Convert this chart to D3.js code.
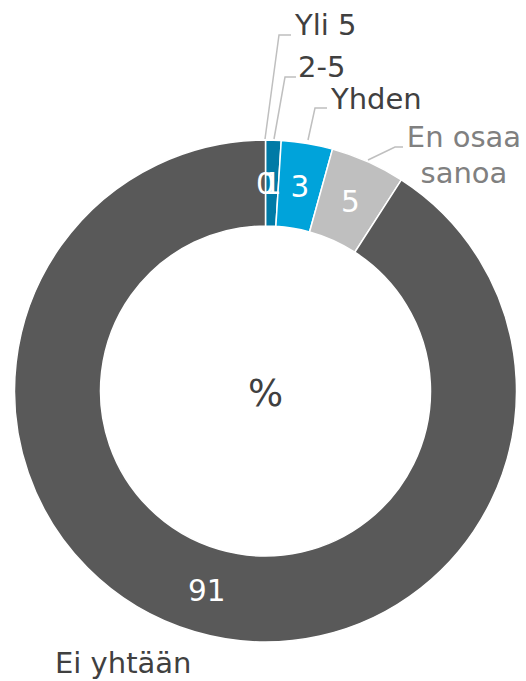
<html>
<head>
<meta charset="utf-8">
<script src="https://d3js.org/d3.v7.min.js"></script>
<style>
body { margin: 0; background: #fff; }
</style>
</head>
<body>
<script>
// data
var categories = ["Yli 5", "2-5", "Yhden", "En osaa sanoa", "Ei yhtään"];
var values = [0, 1.0, 3.3, 4.8, 90.9];
var shownValues = [0, 1, 3, 5, 91];
var colors = ["#1f4e79", "#007aa6", "#00a3da", "#bfbfbf", "#595959"];

var width = 526, height = 681;
var cx = 265.5, cy = 391, outerR = 251, innerR = 165;

var svg = d3.select("body").append("svg")
  .attr("width", width)
  .attr("height", height)
  .style("font-family", "'DejaVu Sans', Verdana, sans-serif");

var pie = d3.pie().sort(null).value(function(d){ return d; });
var arc = d3.arc().innerRadius(innerR).outerRadius(outerR);
var arcs = pie(values);

var g = svg.append("g").attr("transform", "translate(" + cx + "," + cy + ")");

g.selectAll("path")
  .data(arcs).enter()
  .append("path")
  .attr("d", arc)
  .attr("fill", function(d, i){ return colors[i]; })
  .attr("stroke", "#fff")
  .attr("stroke-width", 1.5);

// values inside the ring
g.selectAll("text.val")
  .data(arcs).enter()
  .append("text")
  .attr("class", "val")
  .attr("transform", function(d){ return "translate(" + arc.centroid(d) + ")"; })
  .attr("text-anchor", "middle")
  .attr("dy", "0.36em")
  .attr("font-size", 29.5)
  .attr("fill", "#fff")
  .text(function(d, i){ return shownValues[i]; });

g.append("text")
  .attr("text-anchor", "middle")
  .attr("dy", "0.36em")
  .attr("y", 2)
  .attr("font-size", 37)
  .attr("fill", "#404040")
  .text("%");

// outside labels with leader lines (page coordinates)
var labelLines = [
  {pts: [[265, 139], [279, 35], [291, 35]]},
  {pts: [[274, 139], [285, 77], [296, 77]]},
  {pts: [[308, 140], [315, 108], [327, 108]]},
  {pts: [[368, 160], [395, 147], [403, 147]]}
];
svg.selectAll("polyline")
  .data(labelLines).enter()
  .append("polyline")
  .attr("points", function(d){ return d.pts.join(" "); })
  .attr("fill", "none")
  .attr("stroke", "#bfbfbf")
  .attr("stroke-width", 1.5);

var labelText = [
  {lines: ["Yli 5"], x: 295, y: 35, anchor: "start", color: "#404040"},
  {lines: ["2-5"], x: 298, y: 77, anchor: "start", color: "#404040"},
  {lines: ["Yhden"], x: 331, y: 109, anchor: "start", color: "#404040"},
  {lines: ["En osaa", "sanoa"], x: 464, y: 147, anchor: "middle", color: "#808080"},
  {lines: ["Ei yhtään"], x: 55, y: 673, anchor: "start", color: "#404040"}
];
labelText.forEach(function(l){
  var t = svg.append("text")
    .attr("x", l.x).attr("y", l.y)
    .attr("text-anchor", l.anchor)
    .attr("font-size", 29)
    .attr("fill", l.color);
  l.lines.forEach(function(s, j){
    t.append("tspan").attr("x", l.x).attr("dy", j === 0 ? 0 : 36).text(s);
  });
});
</script>
</body>
</html>
